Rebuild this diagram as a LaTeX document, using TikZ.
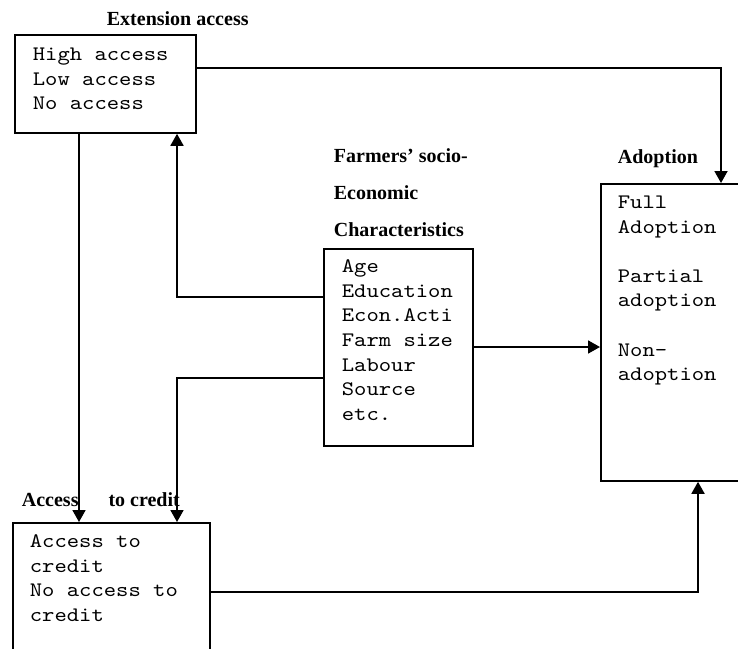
\documentclass[tikz,border=0pt]{standalone}
\usepackage{fontspec}
\setmainfont{Liberation Serif}
\setmonofont{lmmono10-regular.otf}[FakeStretch=1.14]
\usetikzlibrary{arrows.meta,positioning,calc}
\begin{document}
\begin{tikzpicture}[x=0.5pt,y=-0.5pt,line width=0.9pt,
  box/.style={draw,anchor=north west,inner sep=0pt},
  list/.style={inner sep=0pt,align=left,font=\ttfamily\fontsize{10.3}{12.3}\selectfont},
  heading/.style={inner sep=0pt,align=left,font=\bfseries\fontsize{10}{18.5}\selectfont},
  arr/.style={-{Triangle[length=6pt,width=6.5pt]}}]
\useasboundingbox (0,0) rectangle (738,648);
\clip (0,0) rectangle (738,648);
\node [box,minimum width=90.5pt,minimum height=49pt] (ext) at (14,34) {};
\node [heading,above right=3.5pt and 46pt of ext.north west] (exttitle) {Extension access};
\node [list,below right=6.5pt and 9pt of ext.north west] (extlist) {High access\\Low access\\No access};
\node [box,minimum width=74.5pt,minimum height=98.5pt] (farm) at (323,248) {};
\node [heading,above right=5pt and 5pt of farm.north west] (farmtitle) {Farmers' socio-\\Economic\\Characteristics};
\node [list,below right=5.5pt and 9pt of farm.north west] (farmlist) {Age\\Education\\Econ.Acti\\Farm size\\Labour\\Source\\etc.};
\node [box,minimum width=75pt,minimum height=148.5pt] (adopt) at (600,183) {};
\node [heading,above right=7pt and 8.5pt of adopt.north west] (adopttitle) {Adoption};
\node [list,below right=6pt and 8.5pt of adopt.north west] (adoptlist) {Full\\Adoption\\[12.3pt]Partial\\adoption\\[12.3pt]Non-\\adoption};
\node [box,minimum width=98.5pt,minimum height=72pt] (credit) at (12,522) {};
\node [heading,above right=7pt and 4.5pt of credit.north west] (credittitle) {Access\hspace{12.5pt} to credit};
\node [list,below right=6pt and 8.5pt of credit.north west] (creditlist) {Access to\\credit\\No access to\\credit};
\coordinate (extdown) at ($(ext.south west)+(65,0)$);
\draw [arr] (extdown) -- (extdown |- credit.north);
\coordinate (farmup) at ($(farm.north west)+(0,49)$);
\draw [arr] (farmup) -| ($(ext.south west)+(163,0)$);
\coordinate (farmdown) at ($(farm.north west)+(0,130)$);
\draw [arr] (farmdown) -| ($(credit.north west)+(165,0)$);
\coordinate (extright) at ($(ext.north east)+(0,34)$);
\draw [arr] (extright) -| ($(adopt.north west)+(121,0)$);
\coordinate (farmright) at ($(farm.north east)+(0,99)$);
\draw [arr] (farmright) -- (farmright -| adopt.west);
\coordinate (creditright) at ($(credit.north east)+(0,70)$);
\draw [arr] (creditright) -| ($(adopt.south west)+(98,0)$);
\end{tikzpicture}
\end{document}
